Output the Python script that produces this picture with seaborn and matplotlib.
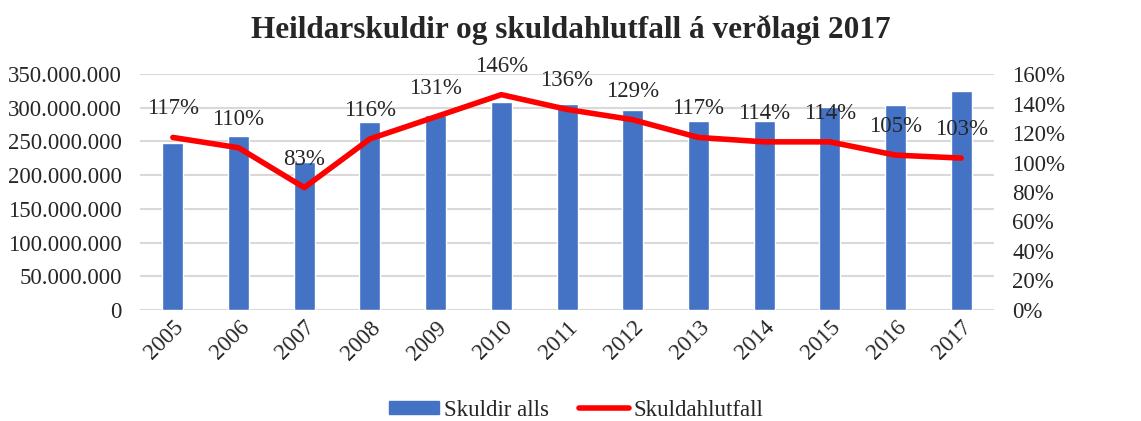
import numpy as np
import pandas as pd
import matplotlib
matplotlib.use("Agg")
import matplotlib.pyplot as plt
import seaborn as sns
from matplotlib.patches import Patch
from matplotlib.lines import Line2D
from matplotlib.ticker import FuncFormatter

years = ["2005", "2006", "2007", "2008", "2009", "2010", "2011",
         "2012", "2013", "2014", "2015", "2016", "2017"]
skuldir = [247e6, 258e6, 219e6, 279e6, 289e6, 309e6, 306e6,
           296e6, 280e6, 281e6, 301e6, 304e6, 325e6]
hlutfall = [117, 110, 83, 116, 131, 146, 136, 129, 117, 114, 114, 105, 103]

sns.set_style("white")
plt.rcParams['font.family'] = ['Liberation Serif', 'DejaVu Serif']

df = pd.DataFrame({"ar": years, "skuldir": skuldir, "hlutfall": hlutfall})

fs = 16.5
fig = plt.figure(figsize=(11.41, 4.21), dpi=100)
ax = fig.add_axes([0.1227, 0.2637, 0.8712 - 0.1227, 0.8242 - 0.2637])

sns.barplot(data=df, x="ar", y="skuldir", color="#4472c4", saturation=1,
            width=0.32, ax=ax, zorder=2)
ax.set_xlim(-0.5, len(years) - 0.5)
ax.set_ylim(0, 350e6)
ax.set_yticks(np.arange(0, 350e6 + 1, 50e6))
ax.yaxis.set_major_formatter(FuncFormatter(
    lambda v, p: "0" if v == 0 else f"{int(v):,}".replace(",", ".")))
ax.grid(axis="y", color="#d9d9d9", linewidth=1.5, zorder=0)
ax.set_axisbelow(True)
for s in ax.spines.values():
    s.set_visible(False)
ax.set_xlabel("")
ax.set_ylabel("")
ax.tick_params(axis="y", labelsize=fs, length=0, pad=13)
ax.tick_params(axis="x", labelsize=fs, length=0, pad=5)
plt.setp(ax.get_xticklabels(), rotation=45, ha="right", rotation_mode="anchor")

ax2 = ax.twinx()
xpos = np.arange(len(years))
sns.lineplot(x=xpos, y=hlutfall, color="#ff0000", linewidth=4, ax=ax2,
             solid_capstyle="round", zorder=3)
ax2.set_ylim(0, 160)
ax2.set_yticks(np.arange(0, 161, 20))
ax2.yaxis.set_major_formatter(FuncFormatter(lambda v, p: f"{int(v)}%"))
for s in ax2.spines.values():
    s.set_visible(False)
ax2.tick_params(axis="y", labelsize=fs, length=0, pad=13)
ax2.set_ylabel("")

for x, v in zip(xpos, hlutfall):
    ax2.annotate(f"{v}%", (x, v), xytext=(0, 13), textcoords="offset points",
                 ha="center", va="bottom", fontsize=fs)

fig.suptitle("Heildarskuldir og skuldahlutfall á verðlagi 2017",
             fontsize=22.5, fontweight="bold", y=0.965)

handles = [Patch(color="#4472c4"),
           Line2D([0], [0], color="#ff0000", linewidth=4, solid_capstyle="round")]
fig.legend(handles, ["Skuldir alls", "Skuldahlutfall"], loc="lower center",
           bbox_to_anchor=(0.505, -0.048), ncol=2, frameon=False, fontsize=fs,
           handlelength=2.2, handleheight=0.55, columnspacing=1.3, handletextpad=0.2)

fig.savefig("out.png", dpi=100)
